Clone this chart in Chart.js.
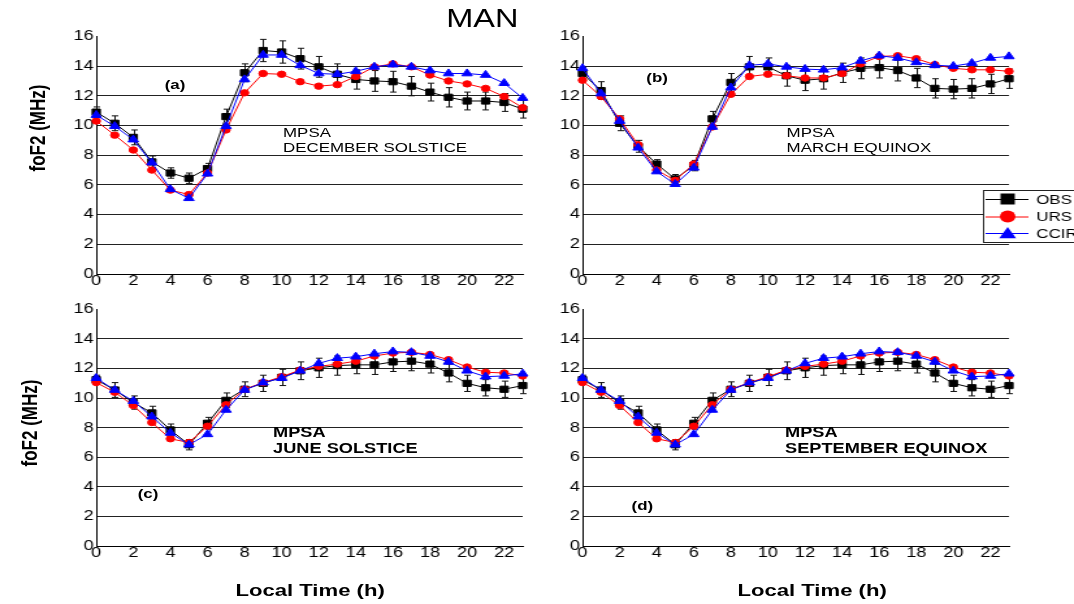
<!DOCTYPE html>
<html><head><meta charset="utf-8">
<script src="https://cdn.jsdelivr.net/npm/chart.js@4/dist/chart.umd.min.js"></script>
<style>
html,body{margin:0;padding:0;background:#fff;overflow:hidden;width:1074px;height:604px}
#wrap{position:absolute;left:0;top:0;width:826px;height:604px;transform:scaleX(1.3002);transform-origin:0 0;font-family:'Liberation Sans',Arial,sans-serif;color:#000}
#wrap canvas{position:absolute}
.t{position:absolute;white-space:nowrap;line-height:1;transform:translate(-50%,-50%)}
.l{position:absolute;white-space:nowrap;line-height:1;transform:translateY(-50%)}
.yt{position:absolute;white-space:nowrap;line-height:1;font-weight:bold;font-size:17px;transform:translate(-50%,-50%) rotate(-90deg)}
.b{font-weight:bold}
</style></head>
<body>
<div id="wrap">
 <canvas id="cA" width="378" height="270" style="left:34px;top:26px"></canvas>
 <canvas id="cB" width="418" height="270" style="left:408px;top:26px"></canvas>
 <canvas id="cC" width="378" height="269" style="left:34px;top:299px"></canvas>
 <canvas id="cD" width="418" height="269" style="left:408px;top:299px"></canvas>

 <div class="t" style="left:371px;top:17.5px;font-size:25px">MAN</div>
 <div class="yt" style="left:28.5px;top:128px">foF2 (MHz)</div>
 <div class="yt" style="left:23px;top:423px">foF2 (MHz)</div>
 <div class="t b" style="left:238.5px;top:590px;font-size:17px">Local Time (h)</div>
 <div class="t b" style="left:624.6px;top:590px;font-size:17px">Local Time (h)</div>

 <div class="t b" style="left:134.6px;top:84px;font-size:13px">(a)</div>
 <div class="t b" style="left:505.4px;top:77px;font-size:13px">(b)</div>
 <div class="t b" style="left:113.8px;top:492.5px;font-size:13px">(c)</div>
 <div class="t b" style="left:494px;top:505px;font-size:13px">(d)</div>

 <div class="l" style="left:217.7px;top:132px;font-size:13px">MPSA</div>
 <div class="l" style="left:217.7px;top:147px;font-size:13px">DECEMBER SOLSTICE</div>
 <div class="l" style="left:605px;top:132px;font-size:13px">MPSA</div>
 <div class="l" style="left:605px;top:147px;font-size:13px">MARCH EQUINOX</div>
 <div class="l b" style="left:210px;top:432px;font-size:14px">MPSA</div>
 <div class="l b" style="left:210px;top:448px;font-size:14px">JUNE SOLSTICE</div>
 <div class="l b" style="left:603.8px;top:432px;font-size:14px">MPSA</div>
 <div class="l b" style="left:603.8px;top:448px;font-size:14px">SEPTEMBER EQUINOX</div>
</div>
<script>
// Local time (h)
const hours = [0,1,2,3,4,5,6,7,8,9,10,11,12,13,14,15,16,17,18,19,20,21,22,23];
const seriesNames = ['OBS','URS','CCIR'];

// (a) December solstice
const obsA  = [10.9,10.15,9.2,7.55,6.8,6.45,7.1,10.6,13.55,15.05,14.95,14.5,13.95,13.45,13.1,13.0,12.95,12.65,12.25,11.9,11.65,11.65,11.55,11.1];
const errA  = [0.35,0.5,0.5,0.4,0.35,0.35,0.35,0.5,0.6,0.75,0.75,0.7,0.7,0.7,0.65,0.7,0.7,0.65,0.6,0.65,0.6,0.6,0.6,0.6];
const ursA  = [10.3,9.35,8.35,7.0,5.65,5.35,6.8,9.7,12.2,13.5,13.45,12.95,12.65,12.75,13.3,13.95,14.15,13.95,13.4,13.0,12.8,12.5,11.95,11.2];
const ccirA = [10.7,9.95,9.05,7.5,5.7,5.1,6.75,9.95,13.1,14.75,14.75,14.05,13.5,13.45,13.65,13.95,14.1,13.95,13.7,13.5,13.5,13.4,12.85,11.85];

// (b) March equinox
const obsB  = [13.5,12.35,10.15,8.6,7.4,6.4,7.3,10.45,12.9,13.95,13.95,13.35,13.05,13.15,13.55,13.85,13.9,13.7,13.2,12.5,12.45,12.5,12.8,13.15];
const errB  = [0.4,0.6,0.5,0.4,0.3,0.3,0.35,0.5,0.6,0.7,0.6,0.7,0.7,0.7,0.65,0.7,0.7,0.7,0.65,0.65,0.65,0.65,0.65,0.65];
const ursB  = [13.05,11.95,10.45,8.7,7.0,6.3,7.4,9.9,12.1,13.3,13.45,13.35,13.2,13.2,13.5,14.15,14.65,14.7,14.5,14.1,13.85,13.75,13.75,13.65];
const ccirB = [13.85,12.15,10.3,8.5,6.9,6.05,7.15,9.9,12.55,14.05,14.15,13.95,13.8,13.75,13.9,14.35,14.7,14.55,14.25,14.05,14.0,14.2,14.55,14.65];

// (c) June solstice
const obsC  = [11.25,10.55,9.7,9.0,7.85,6.85,8.3,9.85,10.6,11.0,11.4,11.85,12.05,12.2,12.25,12.25,12.45,12.5,12.3,11.7,11.0,10.7,10.6,10.85];
const errC  = [0.3,0.5,0.45,0.45,0.4,0.35,0.4,0.5,0.5,0.55,0.55,0.6,0.65,0.65,0.6,0.65,0.65,0.65,0.6,0.6,0.55,0.55,0.55,0.55];
const ursC  = [11.05,10.4,9.5,8.35,7.25,7.0,8.1,9.55,10.6,11.05,11.45,11.9,12.15,12.3,12.5,12.85,13.05,13.1,12.95,12.6,12.1,11.75,11.7,11.5];
const ccirC = [11.35,10.55,9.8,8.75,7.65,6.85,7.55,9.2,10.55,11.05,11.35,11.85,12.35,12.7,12.8,13.0,13.15,13.1,12.85,12.45,11.85,11.45,11.5,11.65];

// (d) September equinox
const obsD  = [11.25,10.55,9.7,9.0,7.85,6.85,8.3,9.85,10.6,11.0,11.4,11.85,12.05,12.2,12.25,12.25,12.45,12.5,12.3,11.7,11.0,10.7,10.6,10.85];
const errD  = [0.3,0.5,0.45,0.45,0.4,0.35,0.4,0.5,0.5,0.55,0.55,0.6,0.65,0.65,0.6,0.65,0.65,0.65,0.6,0.6,0.55,0.55,0.55,0.55];
const ursD  = [11.05,10.4,9.5,8.35,7.25,7.0,8.1,9.55,10.6,11.05,11.45,11.9,12.15,12.3,12.5,12.85,13.05,13.1,12.95,12.6,12.1,11.75,11.7,11.5];
const ccirD = [11.35,10.55,9.8,8.75,7.65,6.85,7.55,9.2,10.55,11.05,11.35,11.85,12.35,12.7,12.8,13.0,13.15,13.1,12.85,12.45,11.85,11.45,11.5,11.65];

const FONT = "'Liberation Sans', Arial, sans-serif";
const pts = arr => arr.map((v, i) => ({x: hours[i], y: v}));

const errPlugin = {
  id: 'errbars',
  beforeDatasetsDraw(chart) {
    const ctx = chart.ctx, xs = chart.scales.x, ys = chart.scales.y;
    chart.data.datasets.forEach(ds => {
      if (!ds.errorBars) return;
      ctx.save();
      ctx.strokeStyle = '#111';
      ctx.lineWidth = 1;
      ds.data.forEach((p, i) => {
        const e = ds.errorBars[i];
        const px = Math.round(xs.getPixelForValue(p.x)) + 0.5;
        const y1 = ys.getPixelForValue(p.y + e), y2 = ys.getPixelForValue(p.y - e);
        ctx.beginPath();
        ctx.moveTo(px, y1); ctx.lineTo(px, y2);
        ctx.moveTo(px - 2.5, y1); ctx.lineTo(px + 2.5, y1);
        ctx.moveTo(px - 2.5, y2); ctx.lineTo(px + 2.5, y2);
        ctx.stroke();
      });
      ctx.restore();
    });
  }
};

function marker(ctx, style, x, y, r, color) {
  ctx.fillStyle = color;
  ctx.beginPath();
  if (style === 'rect') {
    ctx.rect(x - r, y - r, 2 * r, 2 * r);
  } else if (style === 'circle') {
    ctx.arc(x, y, r, 0, Math.PI * 2);
  } else {
    ctx.moveTo(x, y - r);
    ctx.lineTo(x + r * 0.866, y + r / 2);
    ctx.lineTo(x - r * 0.866, y + r / 2);
    ctx.closePath();
  }
  ctx.fill();
}

const legendPlugin = {
  id: 'boxLegend',
  afterDraw(chart) {
    const ctx = chart.ctx;
    const ox = 348.5, oy = 164.5, w = 120, h = 52;
    ctx.save();
    ctx.fillStyle = '#fff';
    ctx.fillRect(ox, oy, w, h);
    ctx.strokeStyle = '#222';
    ctx.lineWidth = 1;
    ctx.strokeRect(ox, oy, w, h);
    const rowsY = [173, 190.5, 207];
    const sizes = [5.5, 6, 7.5];
    chart.data.datasets.forEach((ds, i) => {
      const y = rowsY[i];
      ctx.strokeStyle = ds.borderColor;
      ctx.lineWidth = 1;
      ctx.beginPath();
      ctx.moveTo(350, y + 0.5); ctx.lineTo(383, y + 0.5);
      ctx.stroke();
      marker(ctx, ds.pointStyle, 367, y + (ds.pointStyle === 'triangle' ? 1.5 : 0), sizes[i], ds.backgroundColor);
      ctx.fillStyle = '#000';
      ctx.font = "13px " + FONT;
      ctx.textBaseline = 'middle';
      ctx.textAlign = 'left';
      ctx.fillText(ds.label, 389, y + 1);
    });
    ctx.restore();
  }
};

function makeChart(id, obs, err, urs, ccir, padRight, withLegend) {
  const plugins = [errPlugin];
  if (withLegend) plugins.push(legendPlugin);
  return new Chart(document.getElementById(id), {
    type: 'line',
    data: {
      datasets: [
        {label: seriesNames[0], data: pts(obs), errorBars: err, borderColor: '#000', backgroundColor: '#000',
         borderWidth: 1, pointStyle: 'rect', pointRadius: 4.4, pointBorderWidth: 1, order: 3, clip: false},
        {label: seriesNames[1], data: pts(urs), borderColor: '#ff0000', backgroundColor: '#ff0000',
         borderWidth: 1, pointStyle: 'circle', pointRadius: 3.2, pointBorderWidth: 1, order: 2, clip: false},
        {label: seriesNames[2], data: pts(ccir), borderColor: '#0000ff', backgroundColor: '#0000ff',
         borderWidth: 1, pointStyle: 'triangle', pointRadius: 4.6, pointBorderWidth: 1, order: 1, clip: false}
      ]
    },
    options: {
      responsive: false,
      animation: false,
      devicePixelRatio: 1,
      layout: {padding: {top: 10, right: padRight, left: 0, bottom: 0}},
      plugins: {legend: {display: false}, tooltip: {enabled: false}, title: {display: false}},
      elements: {line: {tension: 0}},
      scales: {
        x: {
          type: 'linear', min: 0, max: 23,
          afterFit: s => { s.height = 22; },
          ticks: {stepSize: 2, includeBounds: false, padding: -1, autoSkip: false, maxRotation: 0,
                  color: '#000', font: {family: FONT, size: 14}},
          grid: {display: false, drawTicks: false},
          border: {display: true, color: '#000', width: 1}
        },
        y: {
          min: 0, max: 16,
          afterFit: s => { s.width = 40; },
          ticks: {stepSize: 2, padding: 2, color: '#000', font: {family: FONT, size: 14}},
          grid: {drawTicks: false, lineWidth: 1,
                 color: c => (c.tick && c.tick.value === 16) ? 'rgba(0,0,0,0)' : '#222'},
          border: {display: true, color: '#000', width: 1}
        }
      }
    },
    plugins: plugins
  });
}

makeChart('cA', obsA, errA, ursA, ccirA, 10, false);
makeChart('cB', obsB, errB, ursB, ccirB, 50, true);
makeChart('cC', obsC, errC, ursC, ccirC, 10, false);
makeChart('cD', obsD, errD, ursD, ccirD, 50, false);
</script>
</body></html>
